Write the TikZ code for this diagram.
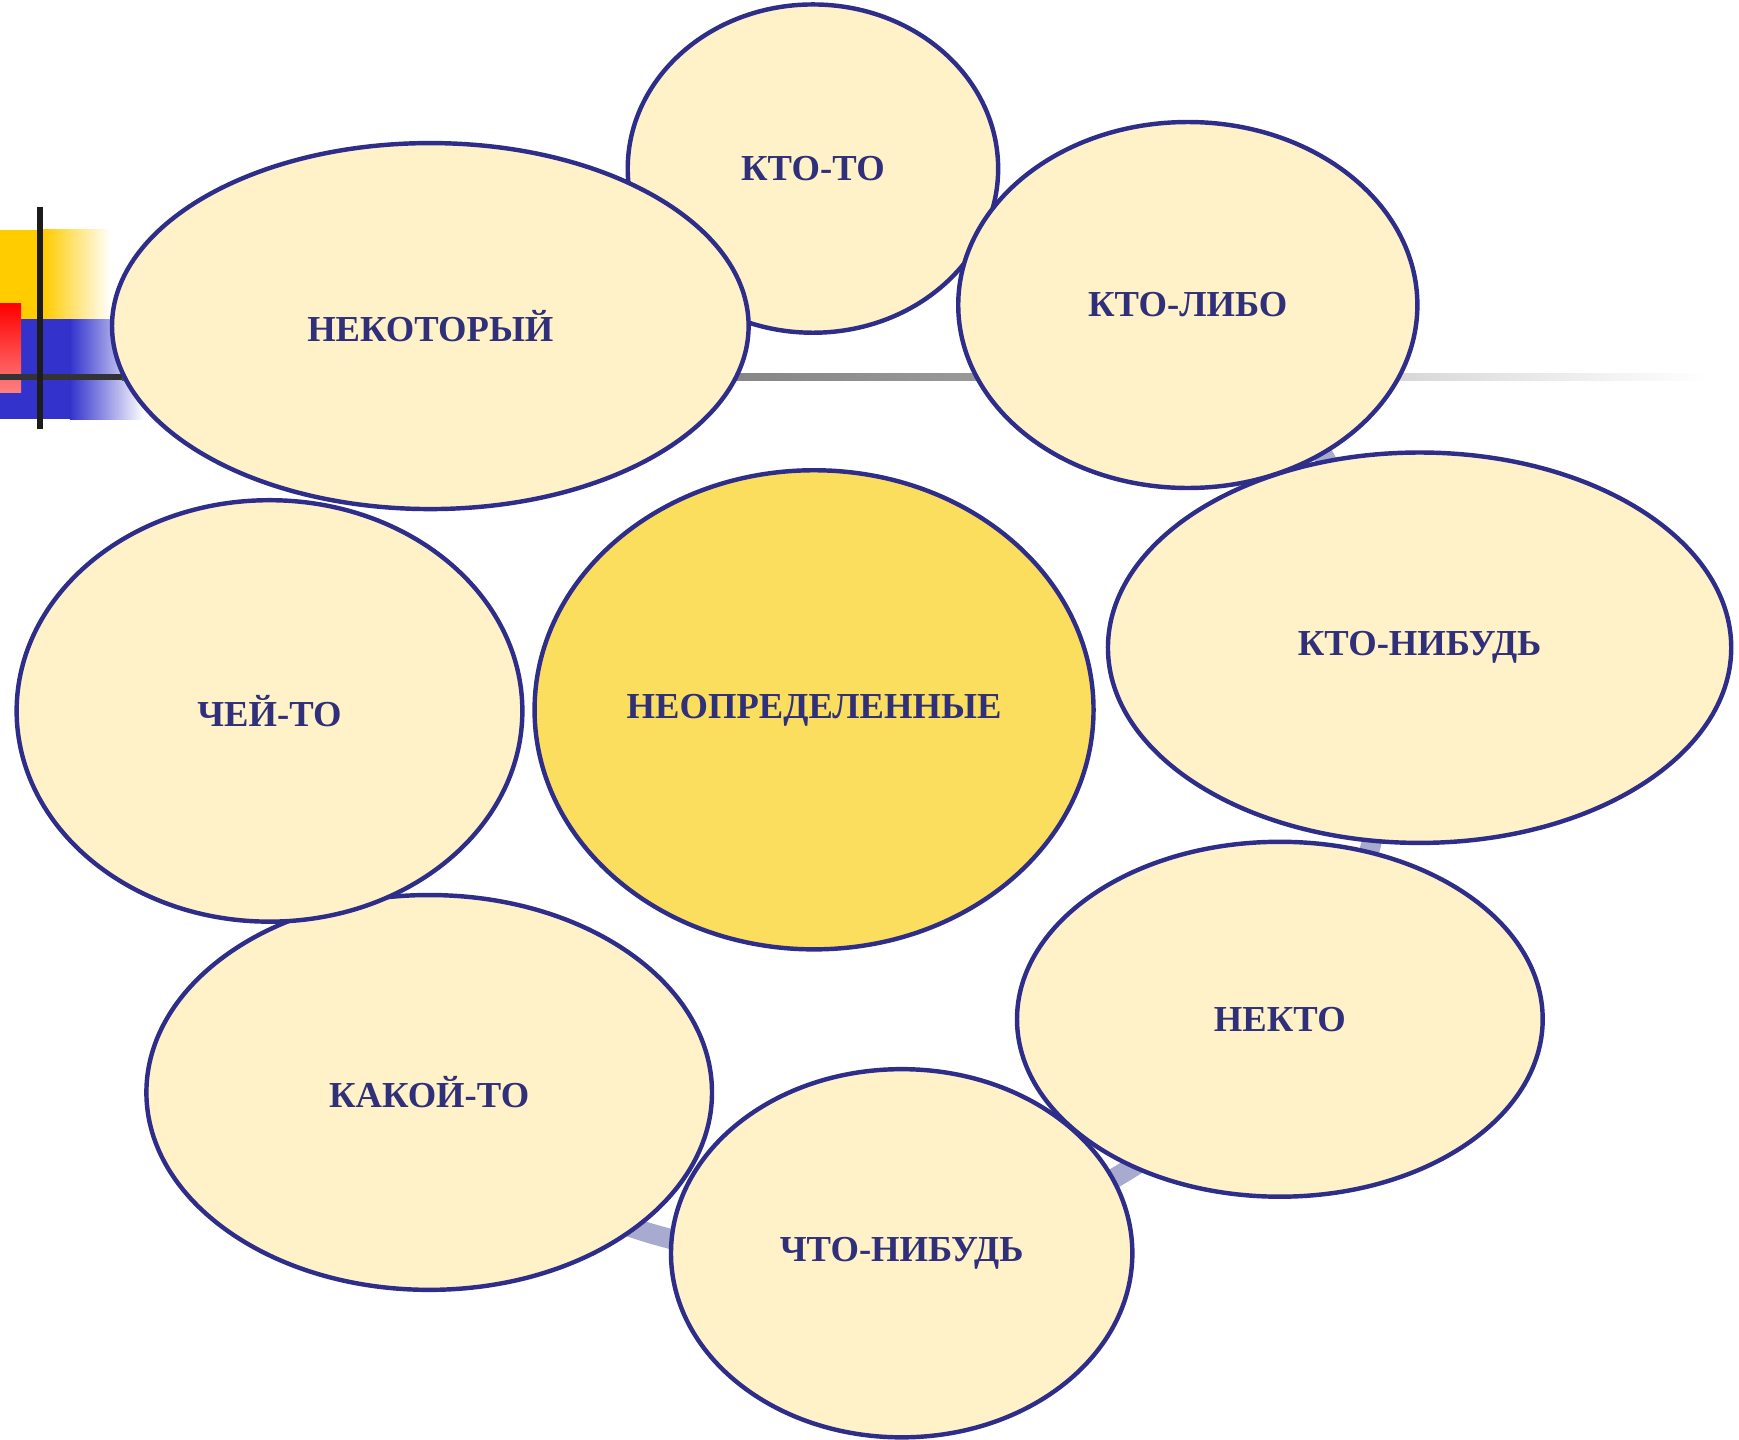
\documentclass[tikz,border=0pt]{standalone}
\usepackage{fontspec}
\setmainfont{Liberation Serif}
\usetikzlibrary{shapes.geometric}
\definecolor{edge}{RGB}{46,46,138}
\definecolor{txt}{RGB}{48,48,122}
\definecolor{petal}{RGB}{255,242,200}
\definecolor{core}{RGB}{252,222,94}
\definecolor{ringc}{RGB}{168,170,208}
\definecolor{yel}{RGB}{255,204,0}
\definecolor{blu}{RGB}{51,51,204}
\definecolor{redtop}{RGB}{255,0,0}
\definecolor{redbot}{RGB}{255,128,128}
\definecolor{blk}{RGB}{28,28,28}
\begin{document}
\begin{tikzpicture}[x=0.5pt,y=-0.5pt,
  petalst/.style={ellipse, draw=edge, line width=2pt, fill=petal, inner sep=0pt,
    font=\fontsize{16.5}{19}\selectfont\bfseries, text=txt},
  corest/.style={petalst, fill=core}]
\useasboundingbox (0,0) rectangle (1568,1298);
% shadow ring behind the petals
\draw[ringc, line width=9pt] (738,640) ++(30:257pt and 247pt)
  arc[start angle=30, end angle=-112, x radius=257pt, y radius=247pt];
% slide decoration
\fill[yel] (0,207) rectangle (39,288);
\shade[left color=yel, right color=white] (39,207) rectangle (100,288);
\fill[blu] (0,288) rectangle (63,378);
\shade[left color=blu, right color=white] (63,288) rectangle (130,378);
\shade[top color=redtop, bottom color=redbot] (0,274) rectangle (19,354);
\fill[blk!90!white] (0,337) rectangle (110,343);
\shade[left color=black!66, right color=black!36] (110,337) rectangle (1000,343);
\shade[left color=black!30, right color=white] (1000,337) rectangle (1540,343);
\fill[blk] (33,187) rectangle (39,387);
% petals
\node[petalst, minimum width=167pt, minimum height=148pt] (ktoto) at (733,152) {КТО-ТО};
\node[petalst, minimum width=207pt, minimum height=165pt] (ktolibo) at (1071,275) {КТО-ЛИБО};
\node[petalst, minimum width=281pt, minimum height=176pt] (ktonibud) at (1280,584) {КТО-НИБУДЬ};
\node[petalst, minimum width=237pt, minimum height=160pt] (nekto) at (1154,919) {НЕКТО};
\node[petalst, minimum width=208pt, minimum height=166pt] (chtonibud) at (813,1130) {ЧТО-НИБУДЬ};
\node[petalst, minimum width=255pt, minimum height=178pt] (kakoyto) at (387,985) {КАКОЙ-ТО};
\node[petalst, minimum width=228pt, minimum height=190pt] (cheyto) at (243,641) {ЧЕЙ-ТО};
\node[petalst, minimum width=287pt, minimum height=165pt] (nekotoryy) at (388,294) {НЕКОТОРЫЙ};
\node[corest, minimum width=252pt, minimum height=216pt] (center) at (734,640) {НЕОПРЕДЕЛЕННЫЕ};
\end{tikzpicture}
\end{document}
